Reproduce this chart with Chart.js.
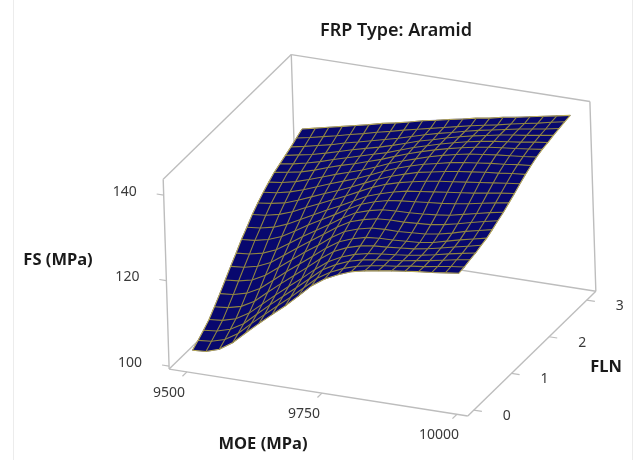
<!DOCTYPE html>
<html>
<head>
<meta charset="utf-8">
<title>FRP Type: Aramid</title>
<script src="https://cdn.jsdelivr.net/npm/chart.js@4"></script>
<style>
html, body { margin: 0; padding: 0; background: #fff; }
#chartWrap { width: 636px; height: 460px; }
canvas { display: block; }
</style>
</head>
<body>
<div id="chartWrap"><canvas id="surfaceChart" width="636" height="460"></canvas></div>
<script>
const chartTitle = 'FRP Type: Aramid';
const moeTitle = 'MOE (MPa)';
const flnTitle = 'FLN';
const fsTitle = 'FS (MPa)';

const moeTicks = [9500, 9750, 10000];
const flnTicks = [0, 1, 2, 3];
const fsTicks = [100, 120, 140];

// grid of the surface
const moeValues = [9500, 9525, 9550, 9575, 9600, 9625, 9650, 9675, 9700, 9725, 9750, 9775, 9800, 9825, 9850, 9875, 9900, 9925, 9950, 9975, 10000];
const flnValues = [0, 0.15, 0.3, 0.45, 0.6, 0.75, 0.9, 1.05, 1.2, 1.35, 1.5, 1.65, 1.8, 1.95, 2.1, 2.25, 2.4, 2.55, 2.7, 2.85, 3];
const fsValues = [
  [103.0, 103.2, 104.2, 106.2, 109.0, 111.7, 114.3, 116.8, 119.6, 122.5, 124.6, 126.1, 127.3, 128.0, 128.5, 129.0, 129.4, 129.8, 130.1, 130.5, 130.9],
  [104.0, 104.3, 105.2, 107.1, 109.9, 112.5, 115.1, 117.6, 120.3, 123.0, 124.9, 126.3, 127.3, 127.9, 128.4, 128.8, 129.3, 129.7, 130.2, 130.7, 131.1],
  [105.1, 105.4, 106.3, 108.1, 110.8, 113.5, 116.0, 118.5, 121.1, 123.7, 125.4, 126.7, 127.5, 128.0, 128.4, 128.8, 129.3, 129.8, 130.4, 131.0, 131.5],
  [106.3, 106.6, 107.5, 109.3, 111.9, 114.5, 117.0, 119.4, 122.0, 124.3, 125.9, 127.0, 127.7, 128.1, 128.4, 128.8, 129.3, 129.9, 130.6, 131.2, 131.8],
  [108.0, 108.3, 109.1, 110.8, 113.4, 115.9, 118.3, 120.7, 123.2, 125.4, 126.8, 127.7, 128.2, 128.4, 128.7, 129.0, 129.5, 130.2, 130.9, 131.6, 132.3],
  [109.8, 110.1, 110.9, 112.5, 114.9, 117.4, 119.7, 122.0, 124.4, 126.4, 127.6, 128.4, 128.7, 128.8, 129.0, 129.2, 129.7, 130.5, 131.3, 132.0, 132.7],
  [111.7, 112.0, 112.7, 114.3, 116.6, 118.9, 121.2, 123.3, 125.6, 127.5, 128.6, 129.3, 129.5, 129.5, 129.7, 129.9, 130.4, 131.1, 132.0, 132.7, 133.4],
  [113.6, 113.9, 114.6, 116.0, 118.2, 120.4, 122.5, 124.6, 126.7, 128.5, 129.5, 130.2, 130.4, 130.4, 130.6, 130.8, 131.3, 132.0, 132.8, 133.5, 134.2],
  [115.4, 115.7, 116.4, 117.7, 119.7, 121.8, 123.7, 125.6, 127.6, 129.3, 130.3, 131.0, 131.2, 131.3, 131.5, 131.8, 132.2, 132.9, 133.6, 134.3, 134.9],
  [117.3, 117.6, 118.3, 119.5, 121.3, 123.2, 124.9, 126.6, 128.4, 130.0, 131.1, 131.9, 132.3, 132.6, 132.9, 133.2, 133.6, 134.1, 134.7, 135.3, 135.8],
  [118.9, 119.2, 119.9, 121.1, 122.7, 124.3, 125.9, 127.4, 129.0, 130.6, 131.7, 132.6, 133.3, 133.7, 134.1, 134.5, 134.9, 135.3, 135.8, 136.3, 136.7],
  [120.6, 120.9, 121.6, 122.7, 124.2, 125.6, 127.0, 128.4, 129.9, 131.4, 132.6, 133.5, 134.2, 134.8, 135.3, 135.7, 136.1, 136.5, 136.9, 137.3, 137.7],
  [122.0, 122.4, 123.0, 124.1, 125.4, 126.7, 127.9, 129.2, 130.6, 132.0, 133.2, 134.2, 135.1, 135.7, 136.3, 136.8, 137.2, 137.6, 137.9, 138.3, 138.6],
  [123.2, 123.6, 124.3, 125.3, 126.5, 127.7, 128.8, 129.9, 131.2, 132.6, 133.8, 134.8, 135.7, 136.4, 137.1, 137.6, 138.0, 138.4, 138.7, 139.1, 139.4],
  [124.3, 124.7, 125.4, 126.4, 127.5, 128.6, 129.6, 130.6, 131.8, 133.1, 134.2, 135.2, 136.2, 137.0, 137.7, 138.3, 138.7, 139.1, 139.4, 139.7, 140.1],
  [125.3, 125.8, 126.4, 127.3, 128.4, 129.4, 130.3, 131.3, 132.3, 133.5, 134.6, 135.6, 136.5, 137.3, 138.0, 138.6, 139.1, 139.5, 139.8, 140.2, 140.6],
  [126.0, 126.5, 127.2, 128.0, 129.0, 129.9, 130.8, 131.7, 132.6, 133.7, 134.8, 135.7, 136.6, 137.4, 138.1, 138.7, 139.2, 139.6, 140.0, 140.5, 140.9],
  [126.7, 127.3, 127.9, 128.7, 129.6, 130.5, 131.3, 132.1, 133.0, 134.0, 135.0, 135.8, 136.7, 137.5, 138.2, 138.8, 139.4, 139.9, 140.3, 140.8, 141.3],
  [127.4, 128.0, 128.7, 129.4, 130.3, 131.0, 131.8, 132.6, 133.4, 134.3, 135.2, 136.0, 136.7, 137.5, 138.2, 138.8, 139.4, 140.0, 140.5, 141.0, 141.6],
  [128.2, 128.8, 129.5, 130.2, 131.0, 131.7, 132.5, 133.2, 134.0, 134.7, 135.4, 136.1, 136.8, 137.5, 138.1, 138.7, 139.4, 140.0, 140.6, 141.3, 141.9],
  [129.0, 129.7, 130.4, 131.1, 131.8, 132.5, 133.3, 133.9, 134.6, 135.4, 136.0, 136.7, 137.3, 138.0, 138.5, 139.2, 139.7, 140.3, 140.9, 141.5, 142.1]
];

// ends of the 3D box
const moeMin = 9467, moeMax = 10020;
const flnMin = -0.16, flnMax = 3.24;
const fsMin = 99.3, fsMax = 143.7;

const navy = '#08086e';
const gridColor = '#8f8440';
const edgeColor = '#b9ab58';
const boxColor = '#bdbdbd';

// view of the box, flattened on to the screen scales
function project(moe, fln, fs) {
    const dm = moe - 9500;
    const dz = fs - fsMin;
    return {
        x: 193 + dm * 0.54 + fln * 37.67 - dz * 0.134,
        y: 366 + dm * 0.0848 - fln * 36.67 - dz * 4.275
    };
}

function lineSet(points, color, width) {
    return {
        data: points,
        borderColor: color,
        borderWidth: width,
        showLine: true,
        pointRadius: 0,
        tension: 0,
        fill: false
    };
}

const datasets = [];

// box
const boxEdges = [
    [[moeMin, flnMin, fsMin], [moeMax, flnMin, fsMin]],
    [[moeMax, flnMin, fsMin], [moeMax, flnMax, fsMin]],
    [[moeMax, flnMax, fsMin], [moeMin, flnMax, fsMin]],
    [[moeMin, flnMax, fsMin], [moeMin, flnMin, fsMin]],
    [[moeMin, flnMin, fsMin], [moeMin, flnMin, fsMax]],
    [[moeMin, flnMax, fsMin], [moeMin, flnMax, fsMax]],
    [[moeMax, flnMax, fsMin], [moeMax, flnMax, fsMax]],
    [[moeMin, flnMin, fsMax], [moeMin, flnMax, fsMax]],
    [[moeMin, flnMax, fsMax], [moeMax, flnMax, fsMax]]
];
boxEdges.forEach(edge => {
    datasets.push(lineSet(edge.map(p => project(p[0], p[1], p[2])), boxColor, 1.4));
});

// tick marks
moeTicks.forEach(v => {
    datasets.push(lineSet([project(v, flnMin, fsMin), project(v, flnMin - 0.12, fsMin)], boxColor, 1.2));
});
flnTicks.forEach(v => {
    datasets.push(lineSet([project(moeMax, v, fsMin), project(moeMax + 15, v, fsMin)], boxColor, 1.2));
});
fsTicks.forEach(v => {
    datasets.push(lineSet([project(moeMin, flnMin, v), project(moeMin - 13, flnMin, v)], boxColor, 1.2));
});

// surface patches, back row first
for (let j = flnValues.length - 2; j >= 0; j--) {
    for (let k = 0; k < moeValues.length - 1; k++) {
        const patch = [
            project(moeValues[k], flnValues[j], fsValues[j][k]),
            project(moeValues[k + 1], flnValues[j], fsValues[j][k + 1]),
            project(moeValues[k + 1], flnValues[j + 1], fsValues[j + 1][k + 1]),
            project(moeValues[k], flnValues[j + 1], fsValues[j + 1][k]),
            project(moeValues[k], flnValues[j], fsValues[j][k])
        ];
        const set = lineSet(patch, navy, 0.6);
        set.fill = 'shape';
        set.backgroundColor = navy;
        datasets.push(set);
    }
}

// grid lines on the surface
flnValues.forEach((fln, j) => {
    const pts = moeValues.map((moe, k) => project(moe, fln, fsValues[j][k]));
    const edge = j === 0 || j === flnValues.length - 1;
    datasets.push(lineSet(pts, edge ? edgeColor : gridColor, 1.1));
});
moeValues.forEach((moe, k) => {
    const pts = flnValues.map((fln, j) => project(moe, fln, fsValues[j][k]));
    const edge = k === 0 || k === moeValues.length - 1;
    datasets.push(lineSet(pts, edge ? edgeColor : gridColor, 1.1));
});

// chart.js draws the highest order first
datasets.forEach((d, i) => { d.order = datasets.length - i; });

function putText(ctx, text, x, y, font, color) {
    ctx.font = font;
    ctx.fillStyle = color;
    ctx.textAlign = 'center';
    ctx.textBaseline = 'middle';
    ctx.fillText(text, x, y);
}

const labelPlugin = {
    id: 'labelPlugin',
    afterDraw(chart) {
        const ctx = chart.ctx;
        const sx = chart.scales.x;
        const sy = chart.scales.y;
        const tickFont = '14px "Noto Sans"';
        const titleFont = 'bold 16.5px "Noto Sans"';
        const ink = '#3a3a3a';

        ctx.save();
        // faint frame of the pasted figure
        ctx.strokeStyle = '#ececec';
        ctx.lineWidth = 1;
        ctx.beginPath();
        ctx.moveTo(13.5, 0);
        ctx.lineTo(13.5, 460);
        ctx.moveTo(632.5, 0);
        ctx.lineTo(632.5, 460);
        ctx.stroke();

        moeTicks.forEach(v => {
            const p = project(v, flnMin, fsMin);
            putText(ctx, String(v), sx.getPixelForValue(p.x) - 18, sy.getPixelForValue(p.y) + 21, tickFont, ink);
        });
        flnTicks.forEach(v => {
            const p = project(moeMax, v, fsMin);
            putText(ctx, String(v), sx.getPixelForValue(p.x) + 33, sy.getPixelForValue(p.y) + 6, tickFont, ink);
        });
        fsTicks.forEach(v => {
            const p = project(moeMin, flnMin, v);
            putText(ctx, String(v), sx.getPixelForValue(p.x) - 39, sy.getPixelForValue(p.y) - 3.5, tickFont, ink);
        });

        putText(ctx, chartTitle, 396, 31, '600 18px "Noto Sans"', '#1a1a1a');
        putText(ctx, moeTitle, 263, 444, titleFont, '#1a1a1a');
        putText(ctx, flnTitle, 606, 367, titleFont, '#1a1a1a');
        putText(ctx, fsTitle, 58, 260, titleFont, '#1a1a1a');
        ctx.restore();
    }
};

new Chart(document.getElementById('surfaceChart').getContext('2d'), {
    type: 'scatter',
    data: { datasets: datasets },
    plugins: [labelPlugin],
    options: {
        responsive: false,
        animation: false,
        layout: { padding: 0 },
        scales: {
            x: { type: 'linear', display: false, min: 0, max: 636 },
            y: { type: 'linear', display: false, min: 0, max: 460, reverse: true }
        },
        plugins: {
            legend: { display: false },
            tooltip: { enabled: false },
            title: { display: false }
        }
    }
});
</script>
</body>
</html>
